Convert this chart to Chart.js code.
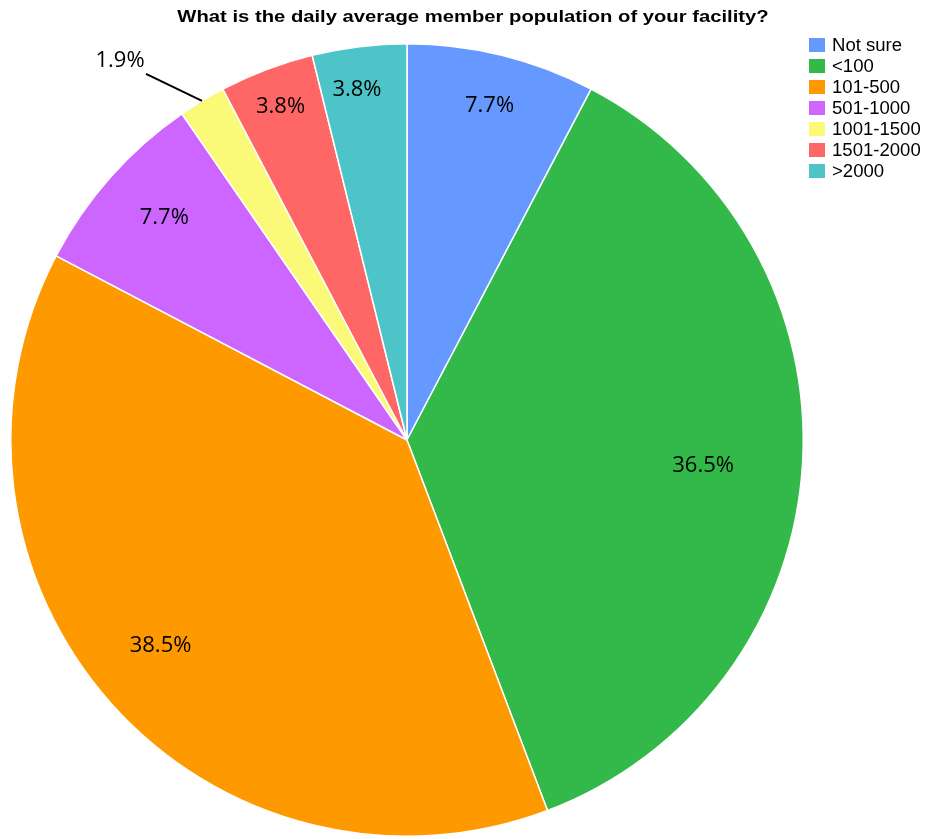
<!DOCTYPE html>
<html>
<head>
<meta charset="utf-8">
<script src="https://cdn.jsdelivr.net/npm/chart.js"></script>
<style>
  body { margin: 0; background: #fff; }
  canvas { display: block; }
</style>
</head>
<body>
<canvas id="pie" width="925" height="839"></canvas>
<script>
const categories = ['Not sure', '<100', '101-500', '501-1000', '1001-1500', '1501-2000', '>2000'];
const counts = [4, 19, 20, 4, 1, 2, 2];
const percentLabels = ['7.7%', '36.5%', '38.5%', '7.7%', '1.9%', '3.8%', '3.8%'];
const colors = ['#6699ff', '#32b94a', '#ff9900', '#cc66ff', '#fafa78', '#ff6666', '#4cc4c8'];

const titleText = 'What is the daily average member population of your facility?';

// label placement per slice: fraction of radius (null = outside, with leader line) and angle nudge in degrees
const labelRadius = [0.87, 0.75, 0.81, 0.83, null, 0.9, 0.894];
const labelNudge = [0, 1.5, 1.7, 0.9, 0, 0, -1.2];

// draw text stretched horizontally around (x, y)
function wideText(ctx, text, x, y, sx) {
    ctx.save();
    ctx.translate(x, y);
    ctx.scale(sx, 1);
    ctx.fillText(text, 0, 0);
    ctx.restore();
}

const pieDecor = {
    id: 'pieDecor',
    afterDraw(chart) {
        const ctx = chart.ctx;
        const arcs = chart.getDatasetMeta(0).data;

        ctx.save();
        ctx.fillStyle = '#000';
        ctx.textBaseline = 'middle';

        // title
        ctx.font = 'bold 17px "Liberation Sans", Arial, sans-serif';
        ctx.textAlign = 'center';
        wideText(ctx, titleText, 473, 17, 1.19);

        // slice labels
        ctx.font = '22px "Open Sans", sans-serif';
        arcs.forEach((arc, i) => {
            const mid = (arc.startAngle + arc.endAngle) / 2 + labelNudge[i] * Math.PI / 180;
            const R = arc.outerRadius;
            if (labelRadius[i] !== null) {
                const r = R * labelRadius[i];
                ctx.fillText(percentLabels[i], arc.x + Math.cos(mid) * r, arc.y + Math.sin(mid) * r);
            } else {
                const sx = arc.x + Math.cos(mid) * R;
                const sy = arc.y + Math.sin(mid) * R;
                const ex = sx - 56, ey = sy - 27;
                ctx.strokeStyle = '#000';
                ctx.lineWidth = 2;
                ctx.beginPath();
                ctx.moveTo(sx, sy);
                ctx.lineTo(ex, ey);
                ctx.stroke();
                ctx.fillText(percentLabels[i], ex - 26, ey - 13);
            }
        });

        // legend
        ctx.font = '17.5px "Liberation Sans", Arial, sans-serif';
        ctx.textAlign = 'left';
        categories.forEach((c, i) => {
            const y = 45 + i * 21;
            ctx.fillStyle = colors[i];
            ctx.fillRect(809, y - 7, 16, 14);
            ctx.fillStyle = '#000';
            wideText(ctx, c, 832, y + 1, 1.06);
        });
        ctx.restore();
    }
};

new Chart(document.getElementById('pie'), {
    type: 'pie',
    data: {
        labels: categories,
        datasets: [{
            data: counts,
            backgroundColor: colors,
            borderColor: '#ffffff',
            borderWidth: 1.5
        }]
    },
    options: {
        responsive: false,
        animation: false,
        layout: { padding: { left: 10, top: 43, right: 121, bottom: 2 } },
        plugins: {
            legend: { display: false },
            title: { display: false },
            tooltip: { enabled: false }
        }
    },
    plugins: [pieDecor]
});
</script>
</body>
</html>
